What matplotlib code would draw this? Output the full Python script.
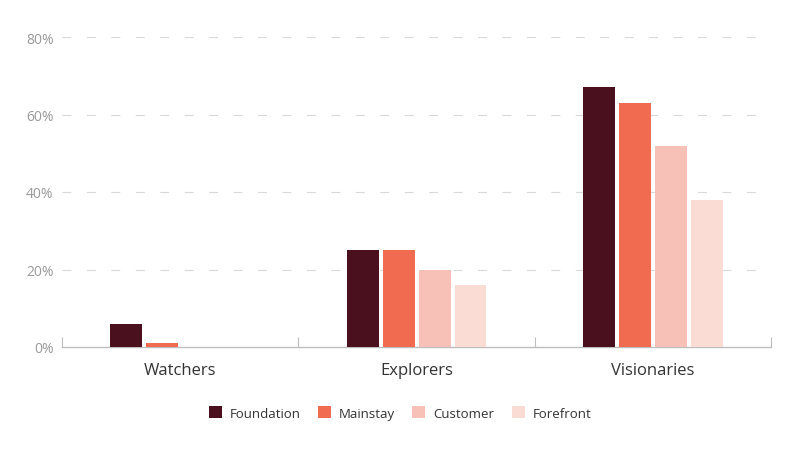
import numpy as np
import matplotlib
matplotlib.use('Agg')
import matplotlib.pyplot as plt
from matplotlib.patches import Patch

plt.rcParams['font.family'] = ['Open Sans', 'DejaVu Sans']

groups = ['Watchers', 'Explorers', 'Visionaries']
series = ['Foundation', 'Mainstay', 'Customer', 'Forefront']
foundation = [6, 25, 67]
mainstay = [1, 25, 63]
customer = [0, 20, 52]
forefront = [0, 16, 38]
colors = ['#4a101e', '#f06b50', '#f7c1b8', '#fbdcd5']
values = [foundation, mainstay, customer, forefront]

fig = plt.figure(figsize=(8, 4.64), dpi=100)
ax = fig.add_axes([0.0775, 0.25, 0.8865, 1 - 0.25 - 38 / 464])

x = np.arange(len(groups))
pitch = 0.152
width = 0.135
for i, (name, vals) in enumerate(zip(series, values)):
    ax.bar(x + (i - 1.5) * pitch, vals, width, color=colors[i], label=name, zorder=3)

ax.set_xlim(-0.5, 2.5)
ax.set_ylim(0, 80)
ax.set_yticks([0, 20, 40, 60, 80])
ax.set_yticklabels(['0%', '20%', '40%', '60%', '80%'])
ax.set_xticks(x)
ax.set_xticklabels(groups)
ax.set_xticks([-0.5, 0.5, 1.5, 2.5], minor=True)

for v in [20, 40, 60, 80]:
    ax.axhline(v, color='#d9d9d9', lw=0.8, dashes=(8, 14), zorder=1)

for s in ['top', 'right', 'left']:
    ax.spines[s].set_visible(False)
ax.spines['bottom'].set_color('#bdbdbd')
ax.spines['bottom'].set_linewidth(1)

ax.tick_params(axis='y', length=0, pad=6, labelsize=10, labelcolor='#999999')
ax.tick_params(axis='x', which='major', length=0, pad=11, labelsize=12, labelcolor='#333333')
ax.tick_params(axis='x', which='minor', direction='in', length=7, width=0.8, color='#bdbdbd')

handles = [Patch(facecolor=c, label=n) for c, n in zip(colors, series)]
fig.legend(handles=handles, loc='center', bbox_to_anchor=(0.5, 1 - 414 / 464), ncol=4,
           frameon=False, fontsize=9.5, handlelength=1.0, handleheight=1.0,
           handletextpad=0.6, columnspacing=1.3, labelcolor='#333333')

fig.savefig('out.png', dpi=100, facecolor='white')
